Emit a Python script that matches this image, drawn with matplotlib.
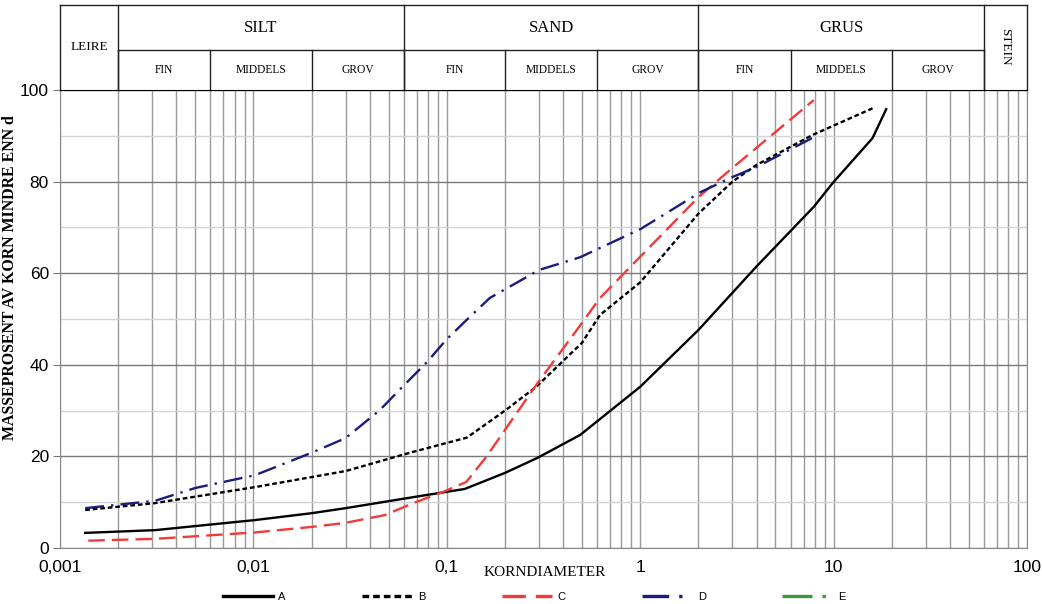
import matplotlib
matplotlib.use("Agg")
import matplotlib.pyplot as plt
from matplotlib.ticker import FixedLocator, FuncFormatter, NullFormatter
import numpy as np

# ---------------- data ----------------
a_d = [0.00135, 0.0031, 0.0102, 0.02, 0.03, 0.067, 0.124, 0.2, 0.295, 0.49, 1.0, 2.0, 3.98, 7.9, 9.9, 15.9, 18.7]
a_p = [3.3, 3.9, 6.1, 7.6, 8.7, 11.1, 12.9, 16.4, 19.7, 24.7, 35.2, 47.6, 61.4, 74.5, 79.7, 89.5, 95.8]

b_d = [0.00135, 0.0031, 0.0102, 0.03, 0.067, 0.127, 0.2, 0.29, 0.5, 0.62, 1.0, 2.0, 3.0, 3.98, 7.8, 15.9]
b_p = [8.3, 9.8, 13.3, 16.8, 21.0, 24.1, 30.0, 35.2, 44.8, 50.9, 58.0, 73.0, 80.0, 83.6, 90.2, 96.0]

c_d = [0.0014, 0.0031, 0.0102, 0.02, 0.03, 0.048, 0.067, 0.095, 0.126, 0.16, 0.2, 0.29, 0.47, 0.62, 0.89, 2.0, 3.0, 7.9]
c_p = [1.6, 2.0, 3.4, 4.6, 5.5, 7.2, 9.8, 12.2, 14.4, 19.9, 25.8, 35.6, 47.6, 54.6, 61.4, 76.6, 83.0, 97.8]

d_d = [0.00135, 0.0031, 0.005, 0.0102, 0.02, 0.03, 0.045, 0.059, 0.079, 0.1, 0.131, 0.167, 0.3, 0.49, 1.0, 2.05, 3.0, 4.0, 7.9]
d_p = [8.7, 10.3, 13.1, 15.9, 20.8, 24.0, 30.1, 35.2, 40.6, 45.6, 50.4, 54.6, 60.7, 63.5, 69.6, 77.7, 81.0, 83.2, 89.7]

e_d = []
e_p = []

series_names = ["A", "B", "C", "D", "E"]

# header classification
main_bounds = [0.001, 0.002, 0.06, 2, 60, 100]
main_labels = ["LEIRE", "SILT", "SAND", "GRUS", "STEIN"]
sub_bounds = [0.002, 0.006, 0.02, 0.06, 0.2, 0.6, 2, 6, 20, 60]
sub_labels = ["FIN", "MIDDELS", "GROV", "FIN", "MIDDELS", "GROV", "FIN", "MIDDELS", "GROV"]

x_major = [0.001, 0.01, 0.1, 1, 10, 100]
x_major_labels = ["0,001", "0,01", "0,1", "1", "10", "100"]
y_major = [0, 20, 40, 60, 80, 100]
y_minor = [10, 30, 50, 70, 90]

# ---------------- figure ----------------
W, H = 1042, 604
fig = plt.figure(figsize=(W / 100, H / 100), dpi=100)
ax = fig.add_axes([60 / W, 56 / H, 967 / W, 458 / H])
ax.set_xscale("log")
ax.set_xlim(0.001, 100)
ax.set_ylim(0, 100)

# grid
x_minor = [m * 10.0 ** e for e in range(-3, 2) for m in range(2, 10)]
ax.xaxis.set_major_locator(FixedLocator(x_major))
ax.xaxis.set_minor_locator(FixedLocator(x_minor))
ax.xaxis.set_major_formatter(FuncFormatter(lambda v, p: x_major_labels[x_major.index(v)] if v in x_major else ""))
ax.xaxis.set_minor_formatter(NullFormatter())
ax.yaxis.set_major_locator(FixedLocator(y_major))
ax.yaxis.set_minor_locator(FixedLocator(y_minor))

ax.grid(axis="x", which="both", color="#9a9a9a", lw=1.0)
ax.grid(axis="y", which="major", color="#7a7a7a", lw=1.0)
ax.grid(axis="y", which="minor", color="#d2d2d2", lw=1.0)
ax.set_axisbelow(True)

ax.tick_params(axis="x", which="both", length=0, pad=9, labelsize=12.5)
ax.tick_params(axis="y", which="major", length=5, color="#777777", labelsize=12.5, pad=3)
ax.tick_params(axis="y", which="minor", length=0)
for lab in ax.get_xticklabels() + ax.get_yticklabels():
    lab.set_fontfamily("Liberation Sans")

for s in ["left", "bottom", "right"]:
    ax.spines[s].set_color("#8a8a8a")
ax.spines["top"].set_color("black")

# ---------------- curves ----------------
ax.plot(a_d, a_p, color="black", lw=1.7, ls="-", label="A")
ax.plot(b_d, b_p, color="black", lw=1.7, ls=(0, (2.0, 1.2)), label="B")
ax.plot(c_d, c_p, color="#f23a3a", lw=1.7, ls=(0, (7, 3)), label="C")
ax.plot(d_d, d_p, color="#1c1c7e", lw=1.7, ls=(0, (8, 3, 1, 3)), label="D")
ax.plot(e_d, e_p, color="#3a9a3a", lw=2.6, ls=(0, (9, 3, 1, 3)), label="E")

# ---------------- header table ----------------
tr = ax.get_xaxis_transform()
y_top = (548 - 5) / 458
y_mid = (548 - 50) / 458
y_bot = 1.0
kw = dict(transform=tr, clip_on=False, color="#222222", lw=1.0)
ax.plot([0.001, 100], [y_top, y_top], **kw)
ax.plot([0.002, 60], [y_mid, y_mid], **kw)
for b in main_bounds:
    ax.plot([b, b], [y_bot, y_top], **kw)
for b in sub_bounds:
    ax.plot([b, b], [y_bot, y_mid], **kw)

serif = "Liberation Serif"
for i, lab in enumerate(main_labels):
    xc = np.sqrt(main_bounds[i] * main_bounds[i + 1])
    if lab == "LEIRE":
        ax.text(xc, (548 - 47) / 458, lab, transform=tr, ha="center", va="center",
                fontsize=9.5, family=serif)
    elif lab == "STEIN":
        ax.text(xc, (548 - 47) / 458, lab, transform=tr, ha="center", va="center",
                fontsize=9.5, family=serif, rotation=270)
    else:
        ax.text(xc, (y_top + y_mid) / 2, lab, transform=tr, ha="center", va="center",
                fontsize=12, family=serif)
for i, lab in enumerate(sub_labels):
    xc = np.sqrt(sub_bounds[i] * sub_bounds[i + 1])
    ax.text(xc, (y_mid + y_bot) / 2, lab, transform=tr, ha="center", va="center",
            fontsize=8.3, family=serif)

# ---------------- labels ----------------
ax.set_ylabel("MASSEPROSENT AV KORN MINDRE ENN d", family=serif, fontweight="bold",
              fontsize=11.4)
ax.yaxis.set_label_coords(-(60 - 18) / 967, (548 - 278) / 458)
fig.text(545 / W, 1 - 573 / H, "KORNDIAMETER", family=serif, fontsize=11,
         ha="center", va="center")

leg = fig.legend(loc="center", bbox_to_anchor=(534 / W, 1 - 597 / H), ncol=5,
                 frameon=False, handlelength=4.5, handletextpad=0.5,
                 columnspacing=6.9, prop={"family": "Liberation Sans", "size": 8})
for h in leg.get_lines():
    h.set_linewidth(2.4)

fig.savefig("out.png", dpi=100)
